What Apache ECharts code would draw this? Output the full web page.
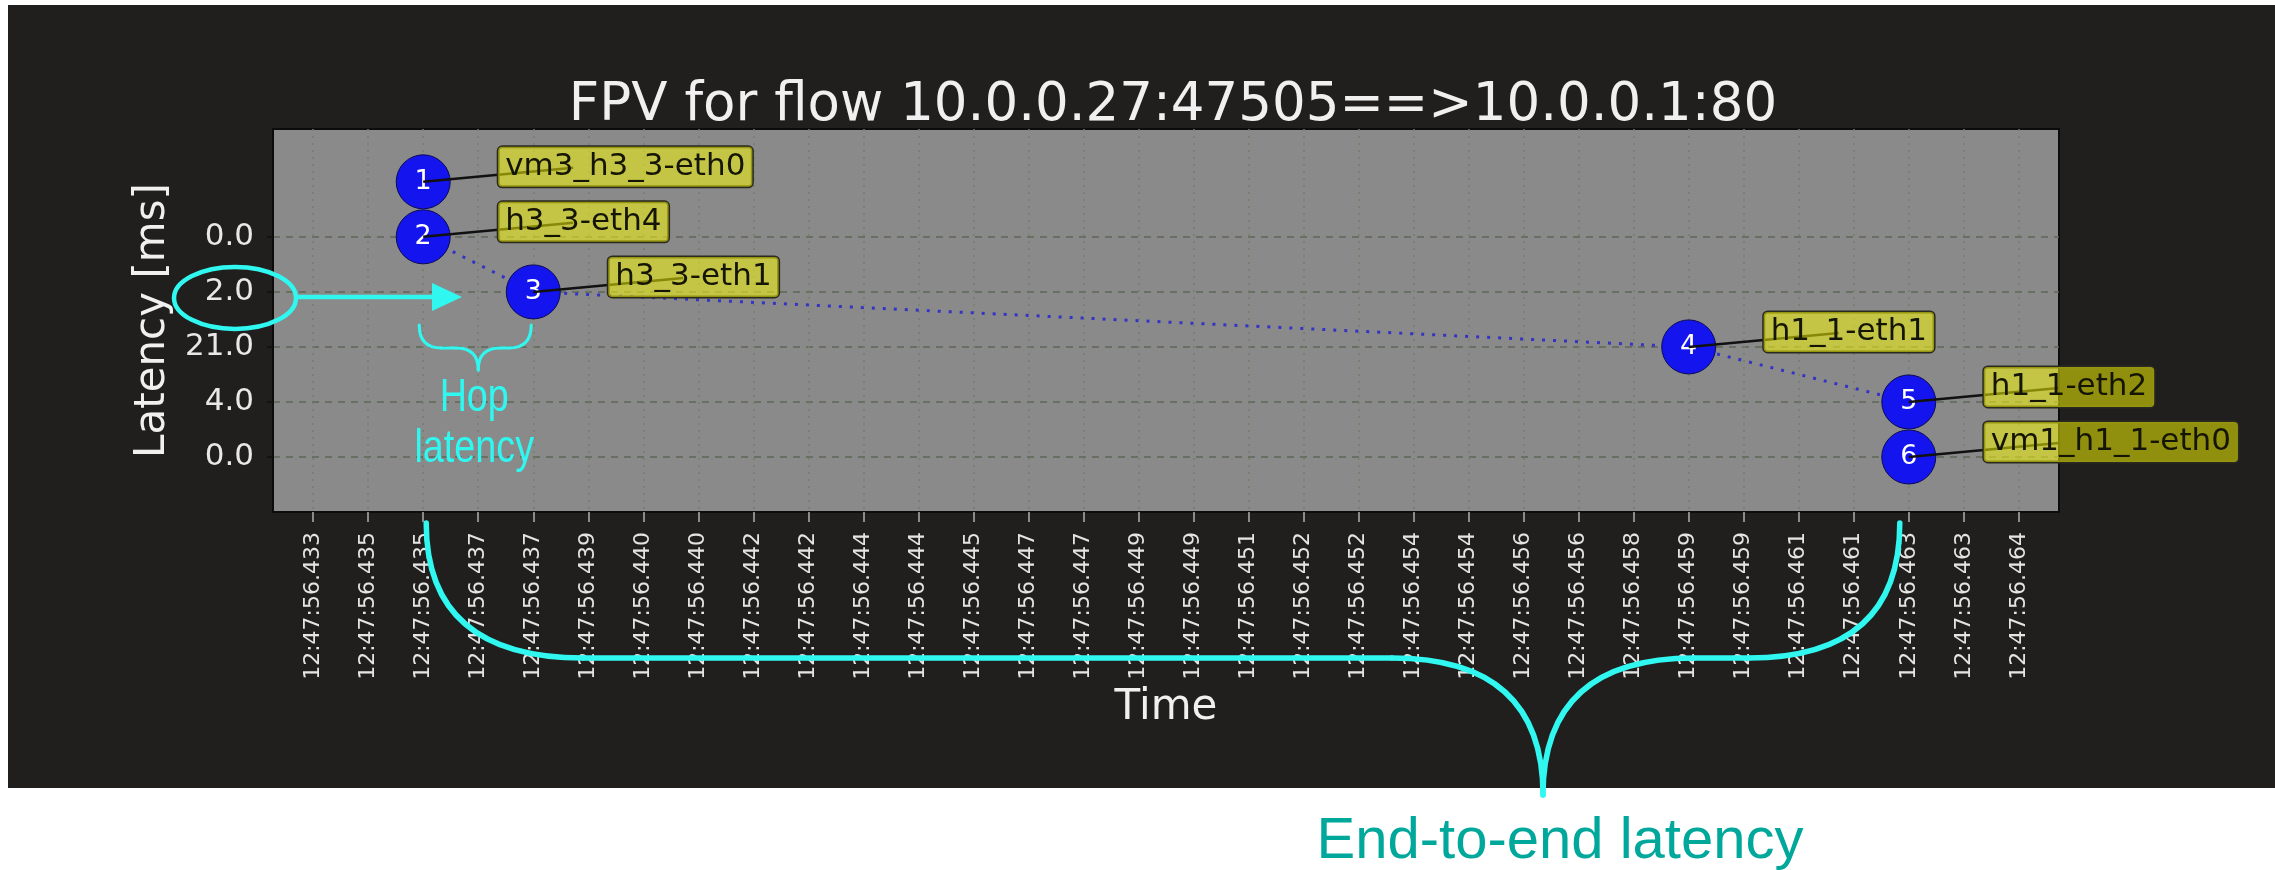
<!DOCTYPE html>
<html>
<head>
<meta charset="utf-8">
<title>FPV</title>
<script src="https://cdn.jsdelivr.net/npm/echarts@6.0.0/dist/echarts.min.js"></script>
<style>
html, body { margin: 0; padding: 0; background: #fff; }
#chart { width: 2275px; height: 870px; }
</style>
</head>
<body>
<div id="chart"></div>
<script>
// x axis tick labels (one per tick, index = position on axis)
var timeLabels = ['12:47:56.433', '12:47:56.435', '12:47:56.435', '12:47:56.437', '12:47:56.437',
    '12:47:56.439', '12:47:56.440', '12:47:56.440', '12:47:56.442', '12:47:56.442',
    '12:47:56.444', '12:47:56.444', '12:47:56.445', '12:47:56.447', '12:47:56.447',
    '12:47:56.449', '12:47:56.449', '12:47:56.451', '12:47:56.452', '12:47:56.452',
    '12:47:56.454', '12:47:56.454', '12:47:56.456', '12:47:56.456', '12:47:56.458',
    '12:47:56.459', '12:47:56.459', '12:47:56.461', '12:47:56.461', '12:47:56.463',
    '12:47:56.463', '12:47:56.464'];
// hops of the flow, in order
var hopNames = ['vm3_h3_3-eth0', 'h3_3-eth4', 'h3_3-eth1', 'h1_1-eth1', 'h1_1-eth2', 'vm1_h1_1-eth0'];
var hopTimeIndex = [2, 2, 4, 25, 29, 29];
// y tick text per hop row (hop 1 has none)
var hopLatency = ['', '0.0', '2.0', '21.0', '4.0', '0.0'];

var tickIdx = timeLabels.map(function (t, i) { return i; });
var hopRows = [];
hopLatency.forEach(function (l, i) { if (l !== '') hopRows.push(i + 1); });
var hopData = hopTimeIndex.map(function (t, i) { return [t, i + 1]; });

var cyan = '#30f8f0';
var chart = echarts.init(document.getElementById('chart'));
var option = {
    animation: false,
    backgroundColor: '#ffffff',
    title: {
        text: 'FPV for flow 10.0.0.27:47505==>10.0.0.1:80',
        left: 1168,
        top: 75,
        textAlign: 'center',
        textStyle: { color: '#f0f0f0', fontSize: 53, fontWeight: 'normal', fontFamily: 'DejaVu Sans' }
    },
    grid: {
        left: 273, right: 216, top: 129, bottom: 358,
        show: true,
        backgroundColor: '#8a8a8a',
        borderColor: '#0c0c0c',
        borderWidth: 2
    },
    xAxis: {
        type: 'value',
        min: -0.73,
        max: 31.73,
        name: 'Time',
        nameLocation: 'middle',
        nameGap: 175,
        nameTextStyle: { color: '#f0f0f0', fontSize: 42, fontFamily: 'DejaVu Sans' },
        axisLine: { show: true, onZero: false, lineStyle: { color: '#0c0c0c', width: 2 } },
        axisTick: { customValues: tickIdx, length: 10, lineStyle: { color: '#b0b0b0', width: 1.5 } },
        axisLabel: {
            customValues: tickIdx,
            rotate: 90,
            margin: 20,
            color: '#e4e4e4',
            fontSize: 22,
            fontFamily: 'DejaVu Sans',
            formatter: function (v) { return timeLabels[Math.round(v)]; }
        },
        splitLine: { show: true, lineStyle: { color: '#71806a', width: 1.5, type: [2, 5] } }
    },
    yAxis: {
        type: 'value',
        inverse: true,
        min: 0.04,
        max: 7,
        name: 'Latency [ms]',
        nameLocation: 'middle',
        nameGap: 98,
        nameRotate: 90,
        nameTextStyle: { color: '#f0f0f0', fontSize: 42, fontFamily: 'DejaVu Sans' },
        axisLine: { show: true, onZero: false, lineStyle: { color: '#0c0c0c', width: 2 } },
        axisTick: { customValues: hopRows, length: 6, lineStyle: { color: '#111', width: 1.5 } },
        axisLabel: {
            customValues: hopRows,
            margin: 19,
            color: '#e8e8e8',
            fontSize: 31,
            fontFamily: 'DejaVu Sans',
            formatter: function (v) { return hopLatency[Math.round(v) - 1]; }
        },
        splitLine: { show: true, lineStyle: { color: '#5e6858', width: 1.5, type: [7, 6] } }
    },
    series: [
        {
            type: 'line',
            data: hopData,
            symbol: 'none',
            z: 2,
            lineStyle: { color: '#3434c4', width: 3, type: [3, 8] }
        },
        {
            type: 'scatter',
            data: hopData,
            symbol: 'circle',
            symbolSize: 54,
            z: 3,
            itemStyle: { color: '#1414ee', borderColor: '#0a0a55', borderWidth: 1, opacity: 1 },
            label: {
                show: true,
                position: 'inside',
                color: '#ffffff',
                fontSize: 27,
                fontFamily: 'DejaVu Sans',
                formatter: function (p) { return String(p.dataIndex + 1); }
            }
        },
        {
            type: 'custom',
            coordinateSystem: 'cartesian2d',
            data: hopData,
            encode: { x: 0, y: 1 },
            clip: false,
            z: 4,
            renderItem: function (params, api) {
                var p = api.coord([api.value(0), api.value(1)]);
                return {
                    type: 'group',
                    children: [
                        {
                            type: 'line',
                            shape: { x1: p[0], y1: p[1], x2: p[0] + 150, y2: p[1] - 14 },
                            style: { stroke: '#111', lineWidth: 2.5 }
                        },
                        {
                            type: 'text',
                            x: p[0] + 75,
                            y: p[1] - 15,
                            style: {
                                text: hopNames[params.dataIndex],
                                font: '31px "DejaVu Sans"',
                                fill: '#151505',
                                align: 'left',
                                verticalAlign: 'middle',
                                backgroundColor: 'rgba(255,255,0,0.5)',
                                borderColor: '#2a2a20',
                                borderWidth: 1.5,
                                borderRadius: 4,
                                padding: [5, 7, 4, 7]
                            }
                        }
                    ]
                };
            }
        }
    ],
    graphic: [
        {
            type: 'rect', z: -10, silent: true,
            shape: { x: 8, y: 5, width: 2267, height: 783 },
            style: { fill: '#201f1d' }
        }
    ]
};
chart.setOption(option);

// cyan overlay annotations, anchored to the hop positions
var p2 = chart.convertToPixel({ xAxisIndex: 0, yAxisIndex: 0 }, hopData[1]);
var p3 = chart.convertToPixel({ xAxisIndex: 0, yAxisIndex: 0 }, hopData[2]);
var p6 = chart.convertToPixel({ xAxisIndex: 0, yAxisIndex: 0 }, hopData[5]);
var axisBottom = chart.convertToPixel({ xAxisIndex: 0, yAxisIndex: 0 }, [0, 7])[1];

function curve(x1, y1, cx, cy, x2, y2, w, col) {
    return { type: 'bezierCurve', shape: { x1: x1, y1: y1, cpx1: cx, cpy1: cy, x2: x2, y2: y2 },
        style: { stroke: col, lineWidth: w, fill: null, lineCap: 'round' }, z: 20 };
}
function seg(x1, y1, x2, y2, w, col) {
    return { type: 'line', shape: { x1: x1, y1: y1, x2: x2, y2: y2 },
        style: { stroke: col, lineWidth: w, lineCap: 'round' }, z: 20 };
}

var g = [];
// ellipse around the hop latency tick label and arrow
g.push({ type: 'ellipse', shape: { cx: 235, cy: p3[1] + 6, rx: 61, ry: 31 },
    style: { stroke: cyan, lineWidth: 4.5, fill: null }, z: 20 });
g.push(seg(297, p3[1] + 5, 436, p3[1] + 5, 4.5, cyan));
g.push({ type: 'polygon', shape: { points: [[432, p3[1] - 9], [462, p3[1] + 5], [432, p3[1] + 19]] },
    style: { fill: cyan }, z: 20 });

// small brace between hop 2 and hop 3
var bx1 = p2[0] - 4, bx2 = p3[0] - 2, bm = (bx1 + bx2) / 2 + 3;
var by0 = p3[1] + 33, by1 = p3[1] + 56, by2 = p3[1] + 78;
g.push(curve(bx1, by0, bx1, by1, bx1 + 22, by1, 3, cyan));
g.push(seg(bx1 + 22, by1, bm - 22, by1, 3, cyan));
g.push(curve(bm - 22, by1, bm, by1, bm, by2, 3, cyan));
g.push(curve(bm, by2, bm, by1, bm + 22, by1, 3, cyan));
g.push(seg(bm + 22, by1, bx2 - 22, by1, 3, cyan));
g.push(curve(bx2 - 22, by1, bx2, by1, bx2, by0, 3, cyan));
g.push({ type: 'text', x: bm - 4, y: p3[1] + 106, scaleX: 0.82, z: 20,
    style: { text: 'Hop', font: '46px "Liberation Sans"', fill: cyan, align: 'center', verticalAlign: 'middle' } });
g.push({ type: 'text', x: bm - 4, y: p3[1] + 157, scaleX: 0.82, z: 20,
    style: { text: 'latency', font: '46px "Liberation Sans"', fill: cyan, align: 'center', verticalAlign: 'middle' } });

// big brace from hop 2 to hop 6 under the time axis
var ex1 = p2[0] + 3, ex2 = p6[0] - 9, ey0 = axisBottom + 11, ey1 = axisBottom + 146, cuspX = 1543, cuspY = 795;
g.push(curve(ex1, ey0, ex1, ey1, ex1 + 157, ey1, 5.5, cyan));
g.push(seg(ex1 + 157, ey1, cuspX - 151, ey1, 5.5, cyan));
g.push(curve(cuspX - 151, ey1, cuspX, ey1, cuspX, cuspY, 5.5, cyan));
g.push(curve(cuspX, cuspY, cuspX, ey1, cuspX + 151, ey1, 5.5, cyan));
g.push(seg(cuspX + 151, ey1, ex2 - 151, ey1, 5.5, cyan));
g.push(curve(ex2 - 151, ey1, ex2, ey1, ex2, ey0, 5.5, cyan));
g.push({ type: 'text', x: 1560, y: 842, z: 20,
    style: { text: 'End-to-end latency', font: '58px "Liberation Sans"', fill: '#00a89c', align: 'center', verticalAlign: 'middle' } });

chart.setOption({ graphic: option.graphic.concat(g) });
</script>
</body>
</html>
